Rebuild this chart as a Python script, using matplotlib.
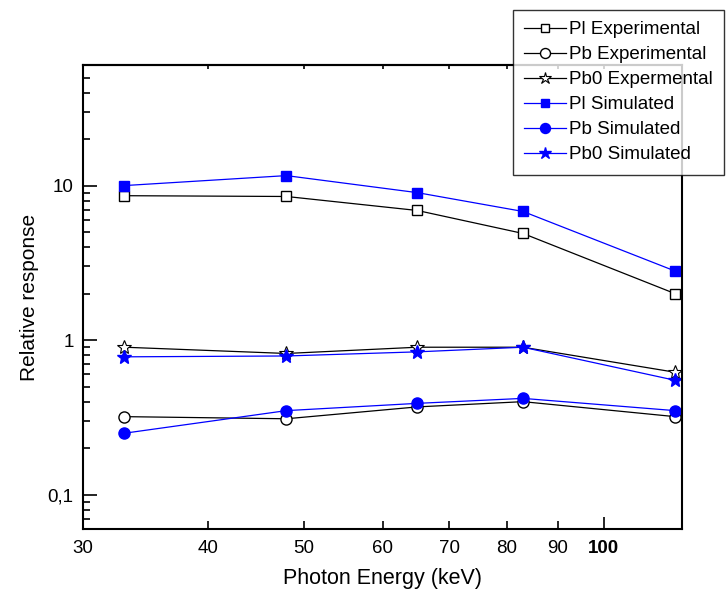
import matplotlib
matplotlib.use("Agg")
import matplotlib.pyplot as plt
from matplotlib.ticker import FixedLocator, FixedFormatter, LogLocator, NullFormatter

plt.rcParams["font.family"] = ["Liberation Sans", "DejaVu Sans"]

energy = [33, 48, 65, 83, 118]

pl_exp = [8.6, 8.5, 6.9, 4.9, 2.0]
pb_exp = [0.32, 0.31, 0.37, 0.40, 0.32]
pb0_exp = [0.90, 0.82, 0.90, 0.90, 0.62]

pl_sim = [10.0, 11.6, 9.0, 6.8, 2.8]
pb_sim = [0.25, 0.35, 0.39, 0.42, 0.35]
pb0_sim = [0.78, 0.79, 0.84, 0.90, 0.55]

x_minor_ticks = [30, 40, 50, 60, 70, 80, 90]
x_minor_labels = ["30", "40", "50", "60", "70", "80", "90"]
y_ticks = [0.1, 1, 10]
y_labels = ["0,1", "1", "10"]

fig = plt.figure(figsize=(7.26, 5.93), dpi=100)
ax = fig.add_axes([0.1147, 0.1079, 0.8251, 0.782])

black = "#000000"
blue = "#0000ff"
lw = 0.9

ax.plot(energy, pl_exp, color=black, lw=lw, marker="s", ms=7, mfc="white", mec=black, mew=1, label="Pl Experimental")
ax.plot(energy, pb_exp, color=black, lw=lw, marker="o", ms=8, mfc="white", mec=black, mew=1, label="Pb Experimental")
ax.plot(energy, pb0_exp, color=black, lw=lw, marker="*", ms=10, mfc="white", mec=black, mew=0.8, label="Pb0 Expermental")
ax.plot(energy, pl_sim, color=blue, lw=lw, marker="s", ms=7, mfc=blue, mec=blue, label="Pl Simulated")
ax.plot(energy, pb_sim, color=blue, lw=lw, marker="o", ms=8, mfc=blue, mec=blue, label="Pb Simulated")
ax.plot(energy, pb0_sim, color=blue, lw=lw, marker="*", ms=10, mfc=blue, mec=blue, label="Pb0 Simulated")

ax.set_xscale("log")
ax.set_yscale("log")
ax.set_xlim(30, 120)
ax.set_ylim(0.06, 60)

# x axis: 100 is the only major tick, the rest are labelled minor ticks
ax.xaxis.set_major_locator(FixedLocator([100]))
ax.xaxis.set_major_formatter(FixedFormatter(["100"]))
ax.xaxis.set_minor_locator(FixedLocator(x_minor_ticks))
ax.xaxis.set_minor_formatter(FixedFormatter(x_minor_labels))

ax.yaxis.set_major_locator(FixedLocator(y_ticks))
ax.yaxis.set_major_formatter(FixedFormatter(y_labels))
ax.yaxis.set_minor_locator(LogLocator(base=10, subs=range(2, 10)))
ax.yaxis.set_minor_formatter(NullFormatter())

ax.tick_params(which="both", direction="in", width=1.2, labelsize=13.5)
ax.tick_params(axis="x", which="major", length=9, pad=8)
ax.tick_params(axis="x", which="minor", length=6, pad=8)
ax.tick_params(axis="y", which="major", length=10, pad=7)
ax.tick_params(axis="y", which="minor", length=5)

# short ticks along the top spine
top = ax.secondary_xaxis("top")
top.xaxis.set_major_locator(FixedLocator([100]))
top.xaxis.set_minor_locator(FixedLocator(x_minor_ticks))
top.tick_params(which="both", direction="in", length=3, width=1.2, labeltop=False)
top.spines["top"].set_linewidth(1.5)

for lab in ax.get_xticklabels(which="major"):
    lab.set_fontweight("bold")
for lab in ax.get_xticklabels(which="both") + ax.get_yticklabels():
    lab.set_family(["Liberation Sans Narrow", "Liberation Sans"])

for sp in ax.spines.values():
    sp.set_linewidth(1.5)

ax.set_xlabel("Photon Energy (keV)", fontsize=15.5, labelpad=8)
ax.set_ylabel("Relative response", fontsize=15, labelpad=6)

leg = fig.legend(loc="upper left", bbox_to_anchor=(513 / 726, 1 - 10 / 593),
                 fontsize=13.5, frameon=True, fancybox=False, edgecolor=black,
                 handlelength=2.2, handletextpad=0.2, labelspacing=0.42,
                 borderpad=0.6, borderaxespad=0, markerscale=0.9)
leg.get_frame().set_linewidth(1.0)

fig.savefig("out.png", dpi=100)
